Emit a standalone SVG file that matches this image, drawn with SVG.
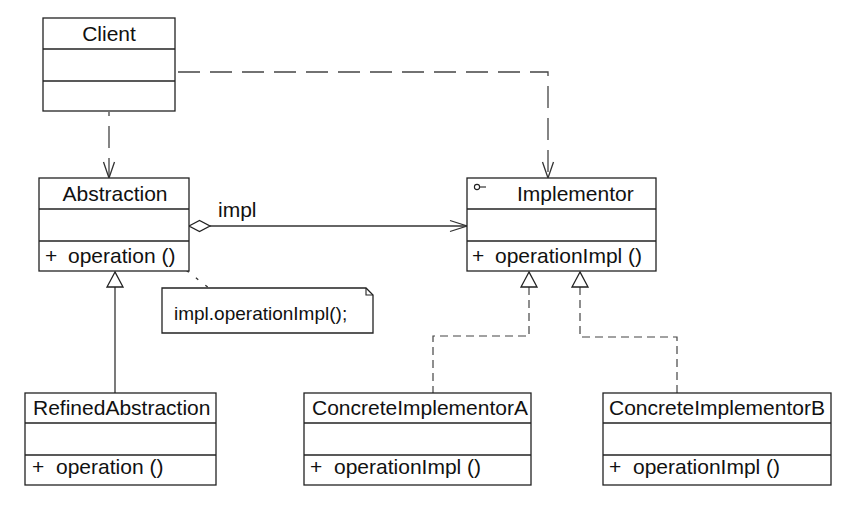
<svg xmlns="http://www.w3.org/2000/svg" width="859" height="511" viewBox="0 0 859 511">
<style>
.box{fill:#fff;stroke:#222;stroke-width:1.3}
.div{stroke:#222;stroke-width:1.3}
.t{font-family:"Liberation Sans",Arial,sans-serif;font-size:21px;fill:#111}
.ln{fill:none;stroke:#333;stroke-width:1.3}
.dash{fill:none;stroke:#444;stroke-width:1.3;stroke-dasharray:22 10}
.dot{fill:none;stroke:#444;stroke-width:1.2;stroke-dasharray:8 5}
.head{fill:none;stroke:#333;stroke-width:1.3}
.tri{fill:#fff;stroke:#222;stroke-width:1.3}
</style>
<rect width="859" height="511" fill="#fff"/>
<g id="connectors">
  <!-- Client to Abstraction -->
  <path class="dash" d="M109,112 V177" stroke-dashoffset="18"/>
  <path class="head" d="M103.5,162 L109,178 L114.5,162"/>
  <!-- Client to Implementor -->
  <path class="dash" d="M178,72 H548 V177"/>
  <path class="head" d="M542.5,162 L548,178 L553.5,162"/>
  <!-- Aggregation -->
  <path class="ln" d="M210,226 H467"/>
  <path class="tri" d="M189,226 L199.5,220.5 L210,226 L199.5,231.5 Z"/>
  <path class="head" d="M450,220.5 L467,226 L450,231.5"/>
  <text class="t" x="218" y="217">impl</text>
  <!-- Refined to Abstraction -->
  <path class="ln" d="M115,393 V287"/>
  <path class="tri" d="M115,272 L107,287 L123,287 Z"/>
  <!-- Realizations -->
  <path class="dot" d="M529,287 V336 H433 V393"/>
  <path class="tri" d="M529,272 L521,287 L537,287 Z"/>
  <path class="dot" d="M580,287 V337 H677 V393"/>
  <path class="tri" d="M580,272 L572,287 L588,287 Z"/>
  <!-- Note anchor -->
  <path fill="none" stroke="#333" stroke-width="1.3" stroke-dasharray="3 9" d="M177,263 L214,292"/>
</g>
<g id="client">
  <rect class="box" x="43" y="18" width="132" height="93"/>
  <line class="div" x1="43" y1="49" x2="175" y2="49"/>
  <line class="div" x1="43" y1="81" x2="175" y2="81"/>
  <text class="t" x="109" y="41" text-anchor="middle">Client</text>
</g>
<g id="abstraction">
  <rect class="box" x="39" y="178" width="150" height="93"/>
  <line class="div" x1="39" y1="209" x2="189" y2="209"/>
  <line class="div" x1="39" y1="241" x2="189" y2="241"/>
  <text class="t" x="115" y="201" text-anchor="middle">Abstraction</text>
  <text class="t" x="45" y="263">+</text>
  <text class="t" x="68" y="263">operation ()</text>
</g>
<g id="implementor">
  <rect class="box" x="467" y="178" width="189" height="93"/>
  <line class="div" x1="467" y1="209" x2="656" y2="209"/>
  <line class="div" x1="467" y1="241" x2="656" y2="241"/>
  <circle cx="477" cy="187" r="2.6" fill="#fff" stroke="#222" stroke-width="1.1"/>
  <line x1="479.6" y1="187" x2="486" y2="187" stroke="#222" stroke-width="1.1"/>
  <text class="t" x="517" y="201">Implementor</text>
  <text class="t" x="472" y="263">+</text>
  <text class="t" x="495" y="263">operationImpl ()</text>
</g>
<g id="note">
  <path class="box" d="M162,288 H366 L373,295 V333 H162 Z"/>
  <path fill="none" stroke="#222" stroke-width="1.1" d="M366,288 V295 H373"/>
  <text class="t" x="174" y="320" style="font-size:19px">impl.operationImpl();</text>
</g>
<g id="refined">
  <rect class="box" x="25" y="393" width="191" height="92"/>
  <line class="div" x1="25" y1="423" x2="216" y2="423"/>
  <line class="div" x1="25" y1="455" x2="216" y2="455"/>
  <text class="t" x="33" y="415">RefinedAbstraction</text>
  <text class="t" x="32" y="474">+</text>
  <text class="t" x="56" y="474">operation ()</text>
</g>
<g id="concreteA">
  <rect class="box" x="304" y="393" width="227" height="92"/>
  <line class="div" x1="304" y1="423" x2="531" y2="423"/>
  <line class="div" x1="304" y1="455" x2="531" y2="455"/>
  <text class="t" x="312" y="415">ConcreteImplementorA</text>
  <text class="t" x="310" y="474">+</text>
  <text class="t" x="334" y="474">operationImpl ()</text>
</g>
<g id="concreteB">
  <rect class="box" x="603" y="393" width="228" height="92"/>
  <line class="div" x1="603" y1="423" x2="831" y2="423"/>
  <line class="div" x1="603" y1="455" x2="831" y2="455"/>
  <text class="t" x="609" y="415">ConcreteImplementorB</text>
  <text class="t" x="609" y="474">+</text>
  <text class="t" x="633" y="474">operationImpl ()</text>
</g>
</svg>
